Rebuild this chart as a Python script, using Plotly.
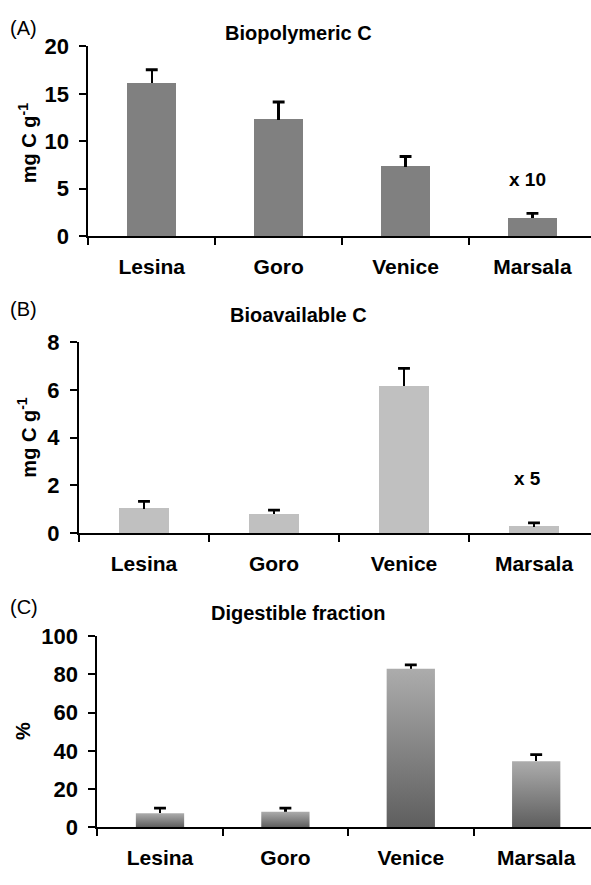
import plotly.graph_objects as go

categories = ["Lesina", "Goro", "Venice", "Marsala"]

# Panel A - Biopolymeric C (mg C g-1)
bio_poly = [16.1, 12.3, 7.3, 1.9]
bio_poly_err = [1.45, 1.85, 1.1, 0.5]

# Panel B - Bioavailable C (mg C g-1)
bio_avail = [1.02, 0.79, 6.16, 0.27]
bio_avail_err = [0.31, 0.18, 0.75, 0.16]

# Panel C - Digestible fraction (%)
digestible = [7.3, 8.1, 83.0, 34.6]
digestible_err = [2.7, 1.9, 2.0, 3.4]

y_ticks_a = [0, 5, 10, 15, 20]
y_ticks_b = [0, 2, 4, 6, 8]
y_ticks_c = [0, 20, 40, 60, 80, 100]

W, H = 591, 885
BAR_W = 0.385
FONT = "Liberation Sans, Arial, sans-serif"
xs = list(range(len(categories)))

fig = go.Figure()


def add_panel(ax, vals, errs, color, gradient=False):
    xa = "x" if ax == 1 else f"x{ax}"
    ya = "y" if ax == 1 else f"y{ax}"
    fig.add_trace(go.Bar(
        x=xs, y=vals, width=BAR_W, xaxis=xa, yaxis=ya,
        marker=dict(color="rgba(0,0,0,0)" if gradient else color, line=dict(width=0)),
        error_y=dict(type="data", symmetric=False, array=errs,
                     arrayminus=[0] * len(errs), color="black",
                     thickness=2.5, width=0),
        showlegend=False,
    ))
    if gradient:
        for xi, v in zip(xs, vals):
            fig.add_trace(go.Scatter(
                x=[xi - BAR_W / 2, xi - BAR_W / 2, xi + BAR_W / 2, xi + BAR_W / 2, xi - BAR_W / 2],
                y=[0, v, v, 0, 0], xaxis=xa, yaxis=ya,
                mode="lines", line=dict(width=0), fill="toself",
                fillgradient=dict(type="vertical",
                                  colorscale=[[0, "#5e5e5e"], [1, "#acacac"]]),
                showlegend=False, hoverinfo="skip",
            ))
    fig.add_trace(go.Scatter(
        x=xs, y=[v + e for v, e in zip(vals, errs)], xaxis=xa, yaxis=ya,
        mode="markers",
        marker=dict(symbol="line-ew", size=8.5, line=dict(width=2.8, color="black")),
        showlegend=False, hoverinfo="skip",
    ))


add_panel(1, bio_poly, bio_poly_err, "#808080")
add_panel(2, bio_avail, bio_avail_err, "#c0c0c0")
add_panel(3, digestible, digestible_err, None, gradient=True)


def xaxis_cfg(left_px, cat_px):
    end = -0.5 + (W - left_px) / cat_px
    return dict(
        domain=[left_px / W, 1], range=[-0.5, end], showgrid=False, zeroline=False,
        showline=True, linecolor="black", linewidth=2,
        tickmode="array", tickvals=xs, ticktext=categories, ticks="",
        ticklabelstandoff=11,
        tickfont=dict(family=FONT, size=21, color="black", weight="bold"),
        minor=dict(tickmode="array", tickvals=[-0.5, 0.5, 1.5, 2.5, 3.5],
                   ticks="outside", ticklen=7, tickwidth=2, tickcolor="black"),
        fixedrange=True,
    )


def yaxis_cfg(bottom_px, top_px, rng, tv, anchor):
    return dict(
        domain=[1 - bottom_px / H, 1 - top_px / H], range=rng, anchor=anchor,
        showgrid=False, zeroline=False, showline=True, linecolor="black", linewidth=2,
        tickmode="array", tickvals=tv, ticks="outside", ticklen=7, tickwidth=2,
        tickcolor="black", ticklabelstandoff=6,
        tickfont=dict(family=FONT, size=22, color="black", weight="bold"),
        fixedrange=True,
    )


fig.update_layout(
    width=W, height=H, margin=dict(l=0, r=0, t=0, b=0),
    paper_bgcolor="white", plot_bgcolor="white", bargap=0,
    xaxis=dict(**xaxis_cfg(88.3, 126.9), anchor="y"),
    yaxis=yaxis_cfg(230.7, 35.5, [0, 20], y_ticks_a, "x"),
    xaxis2=dict(**xaxis_cfg(79.0, 130.0), anchor="y2"),
    yaxis2=yaxis_cfg(536.3, 340.0, [0, 8], y_ticks_b, "x2"),
    xaxis3=dict(**xaxis_cfg(97.3, 125.4), anchor="y3"),
    yaxis3=yaxis_cfg(839.0, 642.3, [0, 100], y_ticks_c, "x3"),
)

ann = []
# panel letters and titles
for letter, ypx, title in [("(A)", 16, "Biopolymeric C"),
                           ("(B)", 306, "Bioavailable C"),
                           ("(C)", 612, "Digestible fraction")]:
    ann.append(dict(text=letter, x=8 / W, y=1 - ypx / H, xref="paper", yref="paper",
                    xanchor="left", yanchor="middle", showarrow=False,
                    font=dict(family=FONT, size=20, color="black")))
    ann.append(dict(text=title, x=298 / W, y=1 - (ypx + 6) / H, xref="paper", yref="paper",
                    xanchor="center", yanchor="middle", showarrow=False,
                    font=dict(family=FONT, size=20, color="black", weight="bold")))

# y-axis titles
for text, ypx, xpx in [("mg C g<sup>-1</sup>", 135, 27), ("mg C g<sup>-1</sup>", 438, 27),
                       ("%", 740, 23)]:
    ann.append(dict(text=text, x=xpx / W, y=1 - ypx / H, xref="paper", yref="paper",
                    xanchor="center", yanchor="middle", textangle=-90, showarrow=False,
                    font=dict(family=FONT, size=20, color="black", weight="bold")))

# multiplier notes
ann.append(dict(text="x 10", x=2.96, y=6.0, xref="x", yref="y", showarrow=False,
                font=dict(family=FONT, size=19, color="black", weight="bold")))
ann.append(dict(text="x 5", x=2.95, y=2.3, xref="x2", yref="y2", showarrow=False,
                font=dict(family=FONT, size=19, color="black", weight="bold")))

fig.update_layout(annotations=ann)
fig.write_html("out.html")
